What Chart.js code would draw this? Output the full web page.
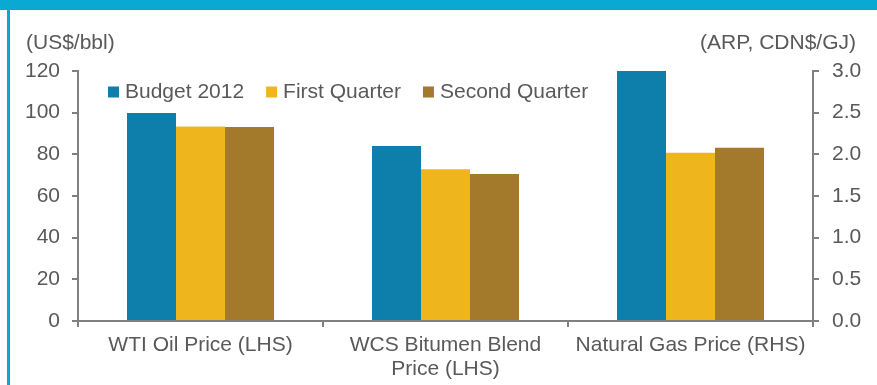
<!DOCTYPE html>
<html lang="en">
<head>
    <meta charset="UTF-8">
    <title>Budget 2012 vs quarterly prices</title>
    <script src="https://cdn.jsdelivr.net/npm/chart.js"></script>
    <style>
        body { margin: 0; background: #fff; }
        #wrap { position: relative; width: 877px; height: 385px; overflow: hidden; }
        #chart { position: absolute; left: 0; top: 0; }
        .band { position: absolute; left: 0; top: 0; width: 877px; height: 10px; background: #0aa9d3; }
        .side { position: absolute; left: 7px; top: 10px; width: 3px; height: 375px; background: #0aa9d3; }
    </style>
</head>
<body>
    <div id="wrap">
        <canvas id="chart" width="877" height="385"></canvas>
        <div class="band"></div>
        <div class="side"></div>
    </div>

    <script>
        const categories = ['WTI Oil Price (LHS)', ['WCS Bitumen Blend', 'Price (LHS)'], 'Natural Gas Price (RHS)'];
        const seriesNames = ['Budget 2012', 'First Quarter', 'Second Quarter'];

        // oil prices, US$/bbl (left axis)
        const oilBudget = [99.8, 84.0];
        const oilQ1 = [93.4, 72.8];
        const oilQ2 = [93.1, 70.6];

        // natural gas, ARP CDN$/GJ (right axis)
        const gasBudget = 3.01;
        const gasQ1 = 2.02;
        const gasQ2 = 2.08;

        const lhsMin = 0, lhsMax = 120, lhsStep = 20;
        const rhsMin = 0, rhsMax = 3, rhsStep = 0.5;

        const colors = ['#0e7fab', '#eeb51d', '#a3792c'];
        const grey = '#808080';
        const textColor = '#595959';
        const font = { family: "'Liberation Sans', Arial, sans-serif", size: 21 };

        Chart.defaults.color = textColor;
        Chart.defaults.font.family = font.family;
        Chart.defaults.font.size = font.size;

        const oil = [oilBudget, oilQ1, oilQ2];
        const gas = [gasBudget, gasQ1, gasQ2];
        const datasets = [];
        seriesNames.forEach((name, i) => {
            datasets.push({
                label: name,
                data: [oil[i][0], oil[i][1], null],
                backgroundColor: colors[i],
                yAxisID: 'y',
                stack: 's' + i
            });
        });
        seriesNames.forEach((name, i) => {
            datasets.push({
                label: name + ' (gas)',
                data: [null, null, gas[i]],
                backgroundColor: colors[i],
                yAxisID: 'y1',
                stack: 's' + i
            });
        });

        // unit labels above the axes + a legend sitting inside the plot
        const extras = {
            id: 'extras',
            afterDraw(chart) {
                const ctx = chart.ctx;
                const area = chart.chartArea;
                ctx.save();
                ctx.fillStyle = textColor;
                ctx.font = font.size + 'px ' + font.family;
                ctx.textBaseline = 'middle';
                ctx.textAlign = 'left';
                ctx.fillText('(US$/bbl)', 26, 43);
                ctx.textAlign = 'right';
                ctx.fillText('(ARP, CDN$/GJ)', 856, 43);

                ctx.textAlign = 'left';
                let x = area.left + 30;
                const y = area.top + 21;
                for (let i = 0; i < seriesNames.length; i++) {
                    ctx.fillStyle = chart.data.datasets[i].backgroundColor;
                    ctx.fillRect(x, y - 5.5, 11, 11);
                    ctx.fillStyle = textColor;
                    ctx.fillText(chart.data.datasets[i].label, x + 17, y);
                    x += 17 + ctx.measureText(chart.data.datasets[i].label).width + 22;
                }
                ctx.restore();
            }
        };

        new Chart(document.getElementById('chart').getContext('2d'), {
            type: 'bar',
            data: { labels: categories, datasets: datasets },
            options: {
                responsive: false,
                animation: false,
                layout: { padding: { top: 71, left: 0, right: 0, bottom: 0 } },
                categoryPercentage: 0.6,
                barPercentage: 1.0,
                plugins: {
                    tooltip: { enabled: false },
                    legend: { display: false }
                },
                scales: {
                    x: {
                        grid: { drawOnChartArea: false, drawTicks: true, tickLength: 6, color: grey, lineWidth: 2 },
                        border: { display: true, color: grey, width: 2 },
                        ticks: { color: textColor, font: { family: font.family, size: 21, lineHeight: '24px' }, padding: 6, maxRotation: 0, autoSkip: false },
                        afterFit: (s) => { s.height = 64; }
                    },
                    y: {
                        position: 'left',
                        min: lhsMin, max: lhsMax,
                        stacked: false,
                        grid: { drawOnChartArea: false, tickLength: 6, color: grey, lineWidth: 2 },
                        border: { display: true, color: grey, width: 2 },
                        ticks: { stepSize: lhsStep, padding: 12, color: textColor, font: font },
                        afterFit: (s) => { s.width = 78; }
                    },
                    y1: {
                        position: 'right',
                        min: rhsMin, max: rhsMax,
                        stacked: false,
                        grid: { drawOnChartArea: false, tickLength: 6, color: grey, lineWidth: 2 },
                        border: { display: true, color: grey, width: 2 },
                        ticks: { stepSize: rhsStep, padding: 13, color: textColor, font: font, callback: (v) => Number(v).toFixed(1) },
                        afterFit: (s) => { s.width = 64; }
                    }
                }
            },
            plugins: [extras]
        });
    </script>
</body>
</html>
